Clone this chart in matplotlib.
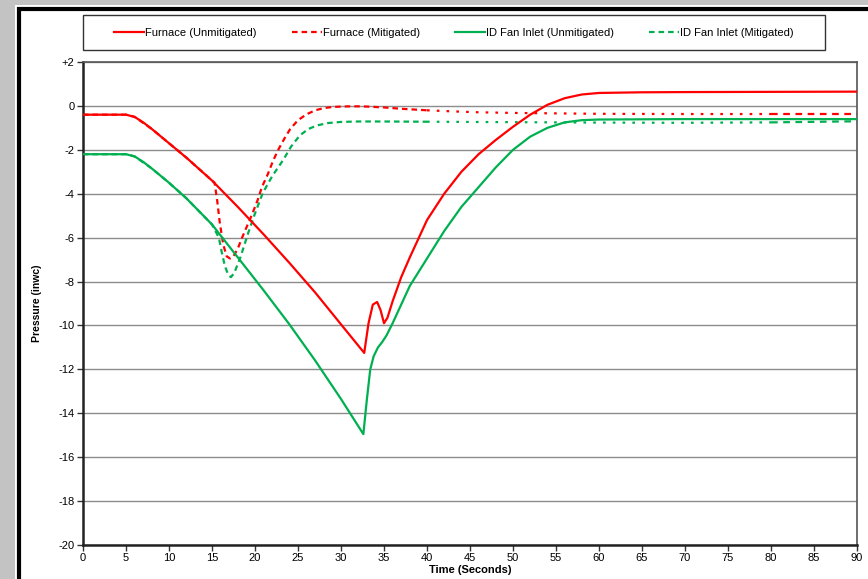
import matplotlib.pyplot as plt
import matplotlib.patches as mpatches
import numpy as np

plt.rcParams['font.family'] = ['Liberation Sans', 'DejaVu Sans']

# Furnace (Unmitigated)
t_fu = [0, 5, 6, 7, 8, 10, 12, 15, 18, 21, 24, 27, 30, 32.7, 33.2, 33.7, 34.2, 34.6,
        35.0, 35.4, 36, 37, 38, 40, 42, 44, 46, 48, 50, 52, 54, 56, 58, 60, 65, 70, 80, 90]
v_fu = [-0.4, -0.4, -0.5, -0.75, -1.05, -1.7, -2.35, -3.4, -4.6, -5.85, -7.15, -8.5, -9.95,
        -11.25, -9.9, -9.05, -8.93, -9.3, -9.9, -9.65, -8.9, -7.8, -6.9, -5.2, -4.0, -3.0,
        -2.2, -1.55, -0.95, -0.4, 0.05, 0.35, 0.52, 0.59, 0.62, 0.63, 0.64, 0.65]

# Furnace (Mitigated)
t_fm = [0, 5, 6, 8, 10, 12, 15.3, 15.6, 15.9, 16.3, 16.7, 17.1, 17.5, 18.0, 18.5, 19.1,
        19.7, 20.3, 20.8, 21.5, 22.1, 22.7, 23.4, 24.1, 25, 26, 27, 28, 29, 30, 31, 32, 33,
        35, 37, 40, 43, 46, 50, 55, 60, 70, 80, 90]
v_fm = [-0.4, -0.4, -0.5, -1.05, -1.7, -2.35, -3.5, -4.3, -5.3, -6.3, -6.85, -6.95, -6.85,
        -6.5, -6.0, -5.45, -4.9, -4.3, -3.7, -3.1, -2.5, -2.0, -1.5, -1.05, -0.65, -0.38,
        -0.2, -0.1, -0.05, -0.03, -0.02, -0.02, -0.03, -0.07, -0.13, -0.2, -0.25, -0.29,
        -0.32, -0.34, -0.36, -0.37, -0.37, -0.37]

# ID Fan Inlet (Unmitigated)
t_gu = [0, 5, 6, 7, 8, 10, 12, 15, 18, 21, 24, 27, 30, 32.6, 33.0, 33.4, 33.8, 34.3,
        34.8, 35.3, 36, 38, 40, 42, 44, 46, 48, 50, 52, 54, 56, 58, 60, 70, 80, 90]
v_gu = [-2.2, -2.2, -2.3, -2.55, -2.85, -3.5, -4.2, -5.4, -6.9, -8.4, -9.95, -11.6, -13.35,
        -14.95, -13.4, -12.0, -11.4, -11.0, -10.75, -10.45, -9.9, -8.2, -6.95, -5.7, -4.6,
        -3.7, -2.8, -2.0, -1.4, -1.0, -0.75, -0.65, -0.62, -0.6, -0.6, -0.6]

# ID Fan Inlet (Mitigated)
t_gm = [0, 5, 6, 8, 10, 12, 15, 15.8, 16.1, 16.5, 16.9, 17.2, 17.6, 18.3, 19.2, 20.0, 20.9,
        22.0, 23.3, 24.2, 25.2, 26.2, 27.3, 28.5, 30, 32, 35, 40, 50, 60, 70, 80, 90]
v_gm = [-2.2, -2.2, -2.3, -2.85, -3.5, -4.2, -5.4, -6.0, -6.6, -7.3, -7.7, -7.8, -7.6, -6.9,
        -5.8, -4.9, -3.97, -3.2, -2.45, -1.85, -1.35, -1.05, -0.88, -0.78, -0.73, -0.71,
        -0.71, -0.72, -0.74, -0.76, -0.77, -0.75, -0.7]

xticks = list(range(0, 91, 5))
yticks = list(range(-20, 3, 2))
ylabels = ['+' + str(v) if v > 0 else str(v) for v in yticks]

RED = '#ff0000'
GREEN = '#00b050'

W, H = 868, 579
fig = plt.figure(figsize=(W / 100, H / 100), dpi=100)
fig.patch.set_facecolor('#c3c3c3')

# white page with black frame
fig.patches.append(mpatches.Rectangle((15 / W, -0.1), 1.2, (H - 5) / H + 0.1,
                                      transform=fig.transFigure, facecolor='white',
                                      edgecolor='none', zorder=-2))
fig.patches.append(mpatches.Rectangle((19 / W, -0.1), 1.2, (H - 9) / H + 0.1,
                                      transform=fig.transFigure, facecolor='none',
                                      edgecolor='black', linewidth=3, zorder=-1))
# legend box
fig.patches.append(mpatches.Rectangle((83 / W, 1 - 50 / H), (825 - 83) / W, 35 / H,
                                      transform=fig.transFigure, facecolor='white',
                                      edgecolor='#333333', linewidth=1, zorder=1))

ax = fig.add_axes([83 / W, 1 - 545 / H, (857 - 83) / W, (545 - 62) / H])
ax.set_zorder(2)
ax.set_facecolor('white')


def draw_mitigated(t, v, color):
    t = np.array(t)
    v = np.array(v)
    m1 = t <= 40
    m2 = (t >= 40) & (t <= 80)
    m3 = t >= 80
    ax.plot(t[m1], v[m1], color=color, lw=1.6, dashes=(2.5, 1.8), zorder=2)
    ax.plot(t[m2], v[m2], color=color, lw=1.6, dashes=(1.2, 3.2), zorder=2)
    ax.plot(t[m3], v[m3], color=color, lw=1.6, dashes=(3, 2.5), zorder=2)


draw_mitigated(t_fm, v_fm, RED)
draw_mitigated(t_gm, v_gm, GREEN)
ax.plot(t_fu, v_fu, color=RED, lw=1.6, zorder=3)
ax.plot(t_gu, v_gu, color=GREEN, lw=1.6, zorder=3)

ax.set_xlim(0, 90)
ax.set_ylim(-20, 2)
ax.set_xticks(xticks)
ax.set_yticks(yticks)
ax.set_yticklabels(ylabels)
ax.tick_params(axis='both', labelsize=8, length=4, width=1, pad=2, color='#333333')
ax.yaxis.grid(True, color='#8c8c8c', lw=1)
ax.set_axisbelow(True)
for s in ['left', 'bottom']:
    ax.spines[s].set_linewidth(1.8)
    ax.spines[s].set_color('#222222')
for s in ['top', 'right']:
    ax.spines[s].set_linewidth(1.2)
    ax.spines[s].set_color('#555555')

ax.set_xlabel('Time (Seconds)', fontsize=8, fontweight='bold', labelpad=1)
ax.set_ylabel('Pressure (inwc)', fontsize=7.5, fontweight='bold', labelpad=12)

# legend
h1, = ax.plot([], [], color=RED, lw=1.6)
h2, = ax.plot([], [], color=RED, lw=1.6, dashes=(2.5, 1.8))
h3, = ax.plot([], [], color=GREEN, lw=1.6)
h4, = ax.plot([], [], color=GREEN, lw=1.6, dashes=(2.5, 1.8))
leg = fig.legend([h1, h2, h3, h4],
                 ['Furnace (Unmitigated)', 'Furnace (Mitigated)',
                  'ID Fan Inlet (Unmitigated)', 'ID Fan Inlet (Mitigated)'],
                 loc='center', bbox_to_anchor=((83 + 825) / 2 / W, 1 - 32.5 / H),
                 ncol=4, fontsize=8, frameon=False, handlelength=2.7,
                 handletextpad=0.05, columnspacing=3.2)
leg.set_zorder(3)

fig.savefig('out.png', dpi=100, facecolor=fig.get_facecolor())
